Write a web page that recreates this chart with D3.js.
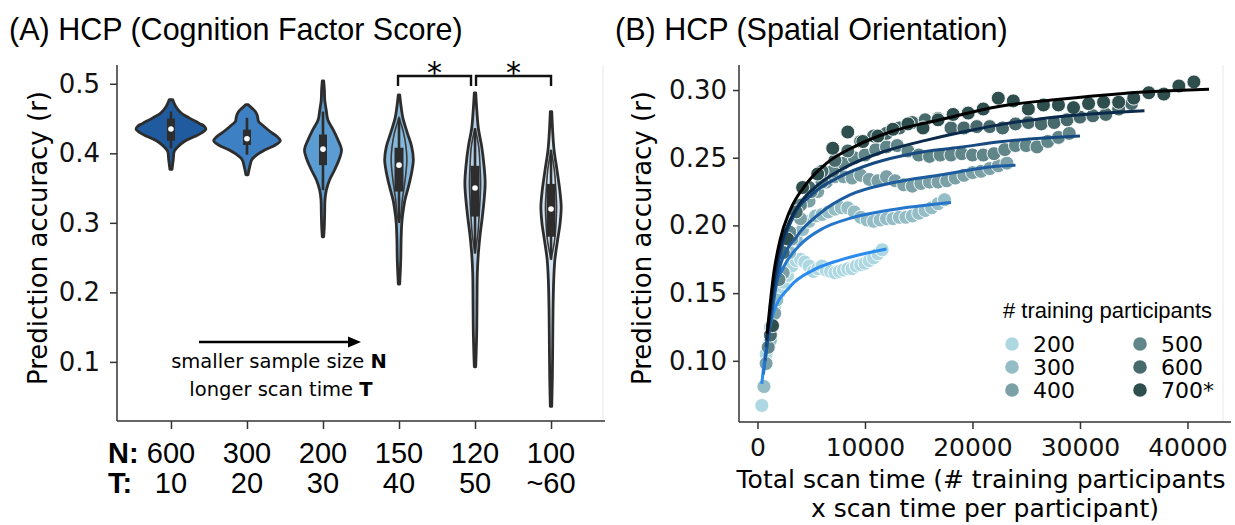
<!DOCTYPE html>
<html>
<head>
<meta charset="utf-8">
<script src="https://cdn.jsdelivr.net/npm/d3@7"></script>
<style>
  body { margin: 0; background: #fff; }
  svg { display: block; }
</style>
</head>
<body>
<div id="chart"></div>
<script>
const width = 1235, height = 525;

// ---- panel A data ----
const sampleN = ["600", "300", "200", "150", "120", "100"];
const scanT = ["10", "20", "30", "40", "50", "~60"];

// violin outlines: [prediction accuracy r, relative half width]
const dens600 = [[.477,.05],[.467,.14],[.458,.29],[.451,.52],[.443,.81],[.439,.95],[.435,1.0],[.430,.9],[.424,.67],[.417,.38],[.409,.19],[.403,.095],[.391,.066],[.377,.03]];
const dens300 = [[.470,.03],[.465,.14],[.460,.24],[.455,.29],[.451,.31],[.446,.33],[.439,.48],[.431,.67],[.424,.86],[.418,.95],[.412,.81],[.405,.52],[.398,.29],[.391,.14],[.381,.08],[.369,.03]];
const dens200 = [[.504,.02],[.491,.04],[.477,.05],[.463,.09],[.448,.14],[.434,.29],[.419,.43],[.405,.53],[.391,.46],[.376,.33],[.362,.19],[.347,.095],[.333,.057],[.314,.048],[.295,.038],[.280,.02]];
const dens150 = [[.484,.02],[.467,.06],[.451,.11],[.429,.24],[.410,.36],[.391,.41],[.372,.36],[.352,.27],[.333,.17],[.314,.11],[.300,.08],[.276,.06],[.247,.05],[.212,.02]];
const dens120 = [[.487,.02],[.463,.05],[.436,.095],[.410,.19],[.381,.26],[.357,.29],[.333,.26],[.309,.21],[.285,.15],[.256,.095],[.228,.066],[.189,.057],[.141,.048],[.093,.02]];
const dens100 = [[.460,.02],[.429,.05],[.405,.086],[.376,.17],[.347,.25],[.323,.29],[.300,.26],[.276,.19],[.247,.11],[.218,.077],[.175,.057],[.127,.048],[.079,.038],[.036,.02]];
const densities = [dens600, dens300, dens200, dens150, dens120, dens100];

// box stats: [q1, median, q3, whisker low, whisker high]
const boxStats = [
  [.418, .435, .450, .407, .460],
  [.412, .421, .434, .398, .451],
  [.383, .406, .427, .347, .460],
  [.345, .383, .408, .300, .451],
  [.309, .350, .382, .256, .436],
  [.280, .320, .356, .247, .405]
];
// inner outline span (r low, r high) for the longer scans
const innerSpan = [null, null, null, [.300, .451], [.256, .436], [.247, .405]];
const violinFill = ["#1f5b9e", "#3d80c3", "#5b9dd2", "#86b8dc", "#b3cfe8", "#d5e4f2"];

// ---- panel B data ----
const nTrain = [200, 300, 400, 500, 600, 700];
const legendLabels = ["200", "300", "400", "500", "600", "700*"];
const scanPerSubj = [2,4,6,8,10,12,14,16,18,20,22,24,26,28,30,32,34,36,38,40,42,44,46,48,50,52,54,56,58];
const acc200 = [0.067,0.105,0.125,0.140,0.150,0.158,0.163,0.170,0.174,0.175,0.173,0.170,0.166,0.168,0.170,0.167,0.166,0.165,0.166,0.167,0.168,0.168,0.170,0.171,0.172,0.174,0.176,0.179,0.182];
const acc300 = [0.081,0.115,0.145,0.165,0.180,0.190,0.197,0.203,0.207,0.208,0.210,0.212,0.213,0.213,0.210,0.206,0.204,0.203,0.204,0.205,0.205,0.206,0.206,0.207,0.209,0.211,0.213,0.216,0.219];
const acc400 = [0.098,0.135,0.165,0.190,0.205,0.218,0.225,0.232,0.236,0.236,0.235,0.237,0.234,0.233,0.236,0.233,0.230,0.229,0.231,0.232,0.232,0.233,0.235,0.237,0.239,0.240,0.242,0.244,0.246];
const acc500 = [0.110,0.160,0.195,0.215,0.225,0.232,0.240,0.246,0.250,0.252,0.256,0.258,0.259,0.255,0.252,0.251,0.252,0.252,0.253,0.252,0.252,0.253,0.256,0.259,0.259,0.258,0.262,0.265,0.268];
const acc600 = [0.119,0.180,0.210,0.228,0.240,0.248,0.255,0.262,0.266,0.268,0.272,0.276,0.278,0.279,0.272,0.272,0.273,0.273,0.272,0.275,0.276,0.275,0.276,0.278,0.280,0.281,0.282,0.286,0.290];
const acc700 = [0.126,0.190,0.228,0.238,0.257,0.269,0.262,0.266,0.271,0.275,0.272,0.278,0.282,0.283,0.286,0.294,0.292,0.286,0.289,0.289,0.287,0.290,0.291,0.291,0.294,0.298,0.297,0.303,0.306];
const accs = [acc200, acc300, acc400, acc500, acc600, acc700];

// fitted curves: [total scan time, r]
const fit200 = [[400,0.083],[860,0.113],[1470,0.135],[3020,0.1547],[5190,0.167],[7670,0.1744],[12000,0.1826]];
const fit300 = [[550,0.090],[1000,0.118],[1520,0.150],[2450,0.1695],[3950,0.1855],[6120,0.1979],[8600,0.2052],[12330,0.2114],[18000,0.217]];
const fit400 = [[700,0.100],[1200,0.128],[2090,0.1695],[3640,0.1917],[5810,0.2089],[8600,0.2225],[12330,0.2311],[16980,0.2372],[22560,0.2439],[24000,0.2445]];
const fit500 = [[800,0.110],[1400,0.145],[2090,0.178],[3330,0.2064],[5190,0.2237],[7670,0.236],[10770,0.2459],[14490,0.2532],[18840,0.2577],[22560,0.2618],[30000,0.266]];
const fit600 = [[850,0.115],[1830,0.1745],[2760,0.199],[3950,0.2163],[5810,0.231],[8300,0.2434],[11700,0.2544],[15740,0.263],[20000,0.2705],[23000,0.2750],[28000,0.2803],[36000,0.2847]];
const fit700 = [[900,0.120],[1520,0.165],[2090,0.189],[3020,0.211],[4580,0.231],[6440,0.246],[9230,0.259],[12330,0.269],[16980,0.278],[22560,0.288],[27880,0.293],[34030,0.2975],[42000,0.3005]];
const fits = [fit200, fit300, fit400, fit500, fit600, fit700];

const pointColor = d3.scaleLinear().domain([0, 5]).range(["#add8e2", "#2f4f4f"]).interpolate(d3.interpolateRgb);
const lineColor = ["#2b8cee", "#2677cc", "#1d5c9e", "#164a80", "#0b2a4c", "#000000"];

const sansA = "'Liberation Sans', Arial, sans-serif";
const sansD = "'DejaVu Sans', sans-serif";

const svg = d3.select("#chart").append("svg")
    .attr("width", width)
    .attr("height", height);

// ================= panel A =================
const mA = {left: 117, right: 605, top: 65, bottom: 421};

const xA = d3.scalePoint()
    .domain(sampleN)
    .range([mA.left, mA.right])
    .padding(0.71);

const yA = d3.scaleLinear()
    .domain([0.015, 0.527])
    .range([mA.bottom, mA.top]);

const wA = d3.scaleLinear().domain([0, 1]).range([0, 35]);

// faint frame edge
svg.append("line")
    .attr("x1", mA.right - 2).attr("x2", mA.right - 2)
    .attr("y1", mA.top).attr("y2", mA.bottom)
    .attr("stroke", "#f0f0f0").attr("stroke-width", 1.5);

const violins = svg.append("g");

densities.forEach((dens, i) => {
  const cx = xA(sampleN[i]);
  const area = d3.area()
      .curve(d3.curveCatmullRom)
      .y(d => yA(d[0]))
      .x0(d => cx - wA(d[1]))
      .x1(d => cx + wA(d[1]));
  violins.append("path")
      .datum(dens)
      .attr("d", area)
      .attr("fill", violinFill[i])
      .attr("stroke", "#2d2d2d")
      .attr("stroke-width", 2.8)
      .attr("stroke-linejoin", "round");

  if (innerSpan[i]) {
    const [lo, hi] = innerSpan[i];
    const inner = [[hi, 0]].concat(dens.filter(d => d[0] < hi && d[0] > lo).map(d => [d[0], d[1] * 0.55]), [[lo, 0]]);
    const innerArea = d3.area()
        .curve(d3.curveCatmullRom)
        .y(d => yA(d[0]))
        .x0(d => cx - wA(d[1]))
        .x1(d => cx + wA(d[1]));
    violins.append("path")
        .datum(inner)
        .attr("d", innerArea)
        .attr("fill", "none")
        .attr("stroke", "#3a3a3a")
        .attr("stroke-width", 1.6);
  }

  const b = boxStats[i];
  const bw = i < 3 ? 8 : 9;
  violins.append("line")
      .attr("x1", cx).attr("x2", cx)
      .attr("y1", yA(b[4])).attr("y2", yA(b[3]))
      .attr("stroke", "#2d2d2d").attr("stroke-width", 2.6);
  violins.append("rect")
      .attr("x", cx - bw / 2)
      .attr("y", yA(b[2]))
      .attr("width", bw)
      .attr("height", yA(b[0]) - yA(b[2]))
      .attr("fill", "#2d2d2d");
  violins.append("circle")
      .attr("cx", cx)
      .attr("cy", yA(b[1]))
      .attr("r", 2.8)
      .attr("fill", "#fff");
});

// y axis
svg.append("g")
    .attr("transform", `translate(${mA.left},0)`)
    .call(d3.axisLeft(yA).tickValues([0.1, 0.2, 0.3, 0.4, 0.5]).tickFormat(d3.format(".1f")).tickSize(7).tickPadding(10))
    .call(g => g.select(".domain").attr("d", `M-0,${mA.top}V${mA.bottom}`))
    .call(g => g.selectAll("path, line").attr("stroke", "#333").attr("stroke-width", 1.5))
    .call(g => g.selectAll("text").attr("font-family", sansD).attr("font-size", 26).attr("fill", "#111"));

// x axis
svg.append("g")
    .attr("transform", `translate(0,${mA.bottom})`)
    .call(d3.axisBottom(xA).tickSize(8).tickFormat(""))
    .call(g => g.select(".domain").attr("d", `M${mA.left},0H${mA.right}`))
    .call(g => g.selectAll("path, line").attr("stroke", "#333").attr("stroke-width", 1.5));

svg.append("g").selectAll("text")
    .data(sampleN)
    .enter().append("text")
      .attr("x", d => xA(d))
      .attr("y", 463)
      .attr("text-anchor", "middle")
      .style("font", `29px ${sansA}`)
      .text(d => d);

svg.append("g").selectAll("text")
    .data(scanT)
    .enter().append("text")
      .attr("x", (d, i) => xA(sampleN[i]))
      .attr("y", 493)
      .attr("text-anchor", "middle")
      .style("font", `29px ${sansA}`)
      .text(d => d);

svg.append("text")
    .attr("x", 108).attr("y", 463)
    .style("font", `bold 29px ${sansA}`)
    .text("N:");
svg.append("text")
    .attr("x", 108).attr("y", 493)
    .style("font", `bold 29px ${sansA}`)
    .text("T:");

svg.append("text")
    .attr("transform", "translate(47,238) rotate(-90)")
    .attr("text-anchor", "middle")
    .style("font", `26px ${sansD}`)
    .text("Prediction accuracy (r)");

// significance brackets
const brackets = [["150", "120", -1, -4], ["120", "100", 1, 0]];
brackets.forEach(([a, c, da, dc]) => {
  const x1 = xA(a) + da, x2 = xA(c) + dc;
  svg.append("path")
      .attr("d", `M${x1},86V76H${x2}V86`)
      .attr("fill", "none")
      .attr("stroke", "#111")
      .attr("stroke-width", 2.4);
  svg.append("text")
      .attr("x", (x1 + x2) / 2)
      .attr("y", 83)
      .attr("text-anchor", "middle")
      .style("font", `30px ${sansD}`)
      .text("*");
});

// arrow annotation
svg.append("line")
    .attr("x1", 199).attr("x2", 350)
    .attr("y1", 342).attr("y2", 342)
    .attr("stroke", "#000").attr("stroke-width", 2.4);
svg.append("path")
    .attr("d", "M361,342L348,336.5L348,347.5Z")
    .attr("fill", "#000");

const note1 = svg.append("text")
    .attr("x", 279).attr("y", 368)
    .attr("text-anchor", "middle")
    .style("font", `19.5px ${sansD}`);
note1.append("tspan").text("smaller sample size ");
note1.append("tspan").attr("font-weight", "bold").text("N");

const note2 = svg.append("text")
    .attr("x", 281).attr("y", 396)
    .attr("text-anchor", "middle")
    .style("font", `19.5px ${sansD}`);
note2.append("tspan").text("longer scan time ");
note2.append("tspan").attr("font-weight", "bold").text("T");

svg.append("text")
    .attr("x", 9).attr("y", 40)
    .style("font", `30.5px ${sansA}`)
    .text("(A) HCP (Cognition Factor Score)");

// ================= panel B =================
const mB = {left: 739, right: 1231, top: 65, bottom: 422};

const xB = d3.scaleLinear()
    .domain([-1720, 44050])
    .range([mB.left, mB.right]);

const yB = d3.scaleLinear()
    .domain([0.0548, 0.3185])
    .range([mB.bottom, mB.top]);

svg.append("line")
    .attr("x1", 1223).attr("x2", 1223)
    .attr("y1", mB.top).attr("y2", mB.bottom)
    .attr("stroke", "#f0f0f0").attr("stroke-width", 1.5);

const pts = svg.append("g");
accs.forEach((acc, i) => {
  pts.append("g")
    .selectAll("circle")
    .data(acc)
    .enter().append("circle")
      .attr("cx", (d, j) => xB(nTrain[i] * scanPerSubj[j]))
      .attr("cy", d => yB(d))
      .attr("r", 7)
      .attr("fill", pointColor(i))
      .attr("stroke", "#fff")
      .attr("stroke-width", 0.9);
});

const fitLine = d3.line()
    .curve(d3.curveMonotoneX)
    .x(d => xB(d[0]))
    .y(d => yB(d[1]));

svg.append("g")
  .selectAll("path")
  .data(fits)
  .enter().append("path")
    .attr("d", fitLine)
    .attr("fill", "none")
    .attr("stroke", (d, i) => lineColor[i])
    .attr("stroke-width", 3);

svg.append("g")
    .attr("transform", `translate(${mB.left},0)`)
    .call(d3.axisLeft(yB).tickValues([0.10, 0.15, 0.20, 0.25, 0.30]).tickFormat(d3.format(".2f")).tickSize(6).tickPadding(6))
    .call(g => g.select(".domain").attr("d", `M-0,${mB.top}V${mB.bottom}`))
    .call(g => g.selectAll("path, line").attr("stroke", "#333").attr("stroke-width", 1.5))
    .call(g => g.selectAll("text").attr("font-family", sansD).attr("font-size", 26).attr("fill", "#111"));

svg.append("g")
    .attr("transform", `translate(0,${mB.bottom})`)
    .call(d3.axisBottom(xB).tickValues([0, 10000, 20000, 30000, 40000]).tickFormat(d3.format("d")).tickSize(7).tickPadding(9))
    .call(g => g.select(".domain").attr("d", `M${mB.left},0H${mB.right}`))
    .call(g => g.selectAll("path, line").attr("stroke", "#333").attr("stroke-width", 1.5))
    .call(g => g.selectAll("text").attr("font-family", sansD).attr("font-size", 25).attr("fill", "#111"));

svg.append("text")
    .attr("transform", "translate(651,238) rotate(-90)")
    .attr("text-anchor", "middle")
    .style("font", `26px ${sansD}`)
    .text("Prediction accuracy (r)");

svg.append("text")
    .attr("x", 981).attr("y", 488)
    .attr("text-anchor", "middle")
    .style("font", `25px ${sansD}`)
    .text("Total scan time (# training participants");
svg.append("text")
    .attr("x", 985).attr("y", 517)
    .attr("text-anchor", "middle")
    .style("font", `25px ${sansD}`)
    .text("x scan time per participant)");

svg.append("text")
    .attr("x", 615).attr("y", 40)
    .style("font", `30.5px ${sansA}`)
    .text("(B) HCP (Spatial Orientation)");

// legend
const legend = svg.append("g");
legend.append("text")
    .attr("x", 1003).attr("y", 318)
    .style("font", `22px ${sansA}`)
    .text("# training participants");

const legItems = legend.selectAll("g.item")
    .data(legendLabels)
    .enter().append("g")
      .attr("class", "item")
      .attr("transform", (d, i) => `translate(${i < 3 ? 1012 : 1140},${344 + (i % 3) * 23})`);
legItems.append("circle")
    .attr("r", 6.8)
    .attr("fill", (d, i) => pointColor(i));
legItems.append("text")
    .attr("x", 21).attr("y", 8)
    .style("font", `22px ${sansD}`)
    .text(d => d);
</script>
</body>
</html>
